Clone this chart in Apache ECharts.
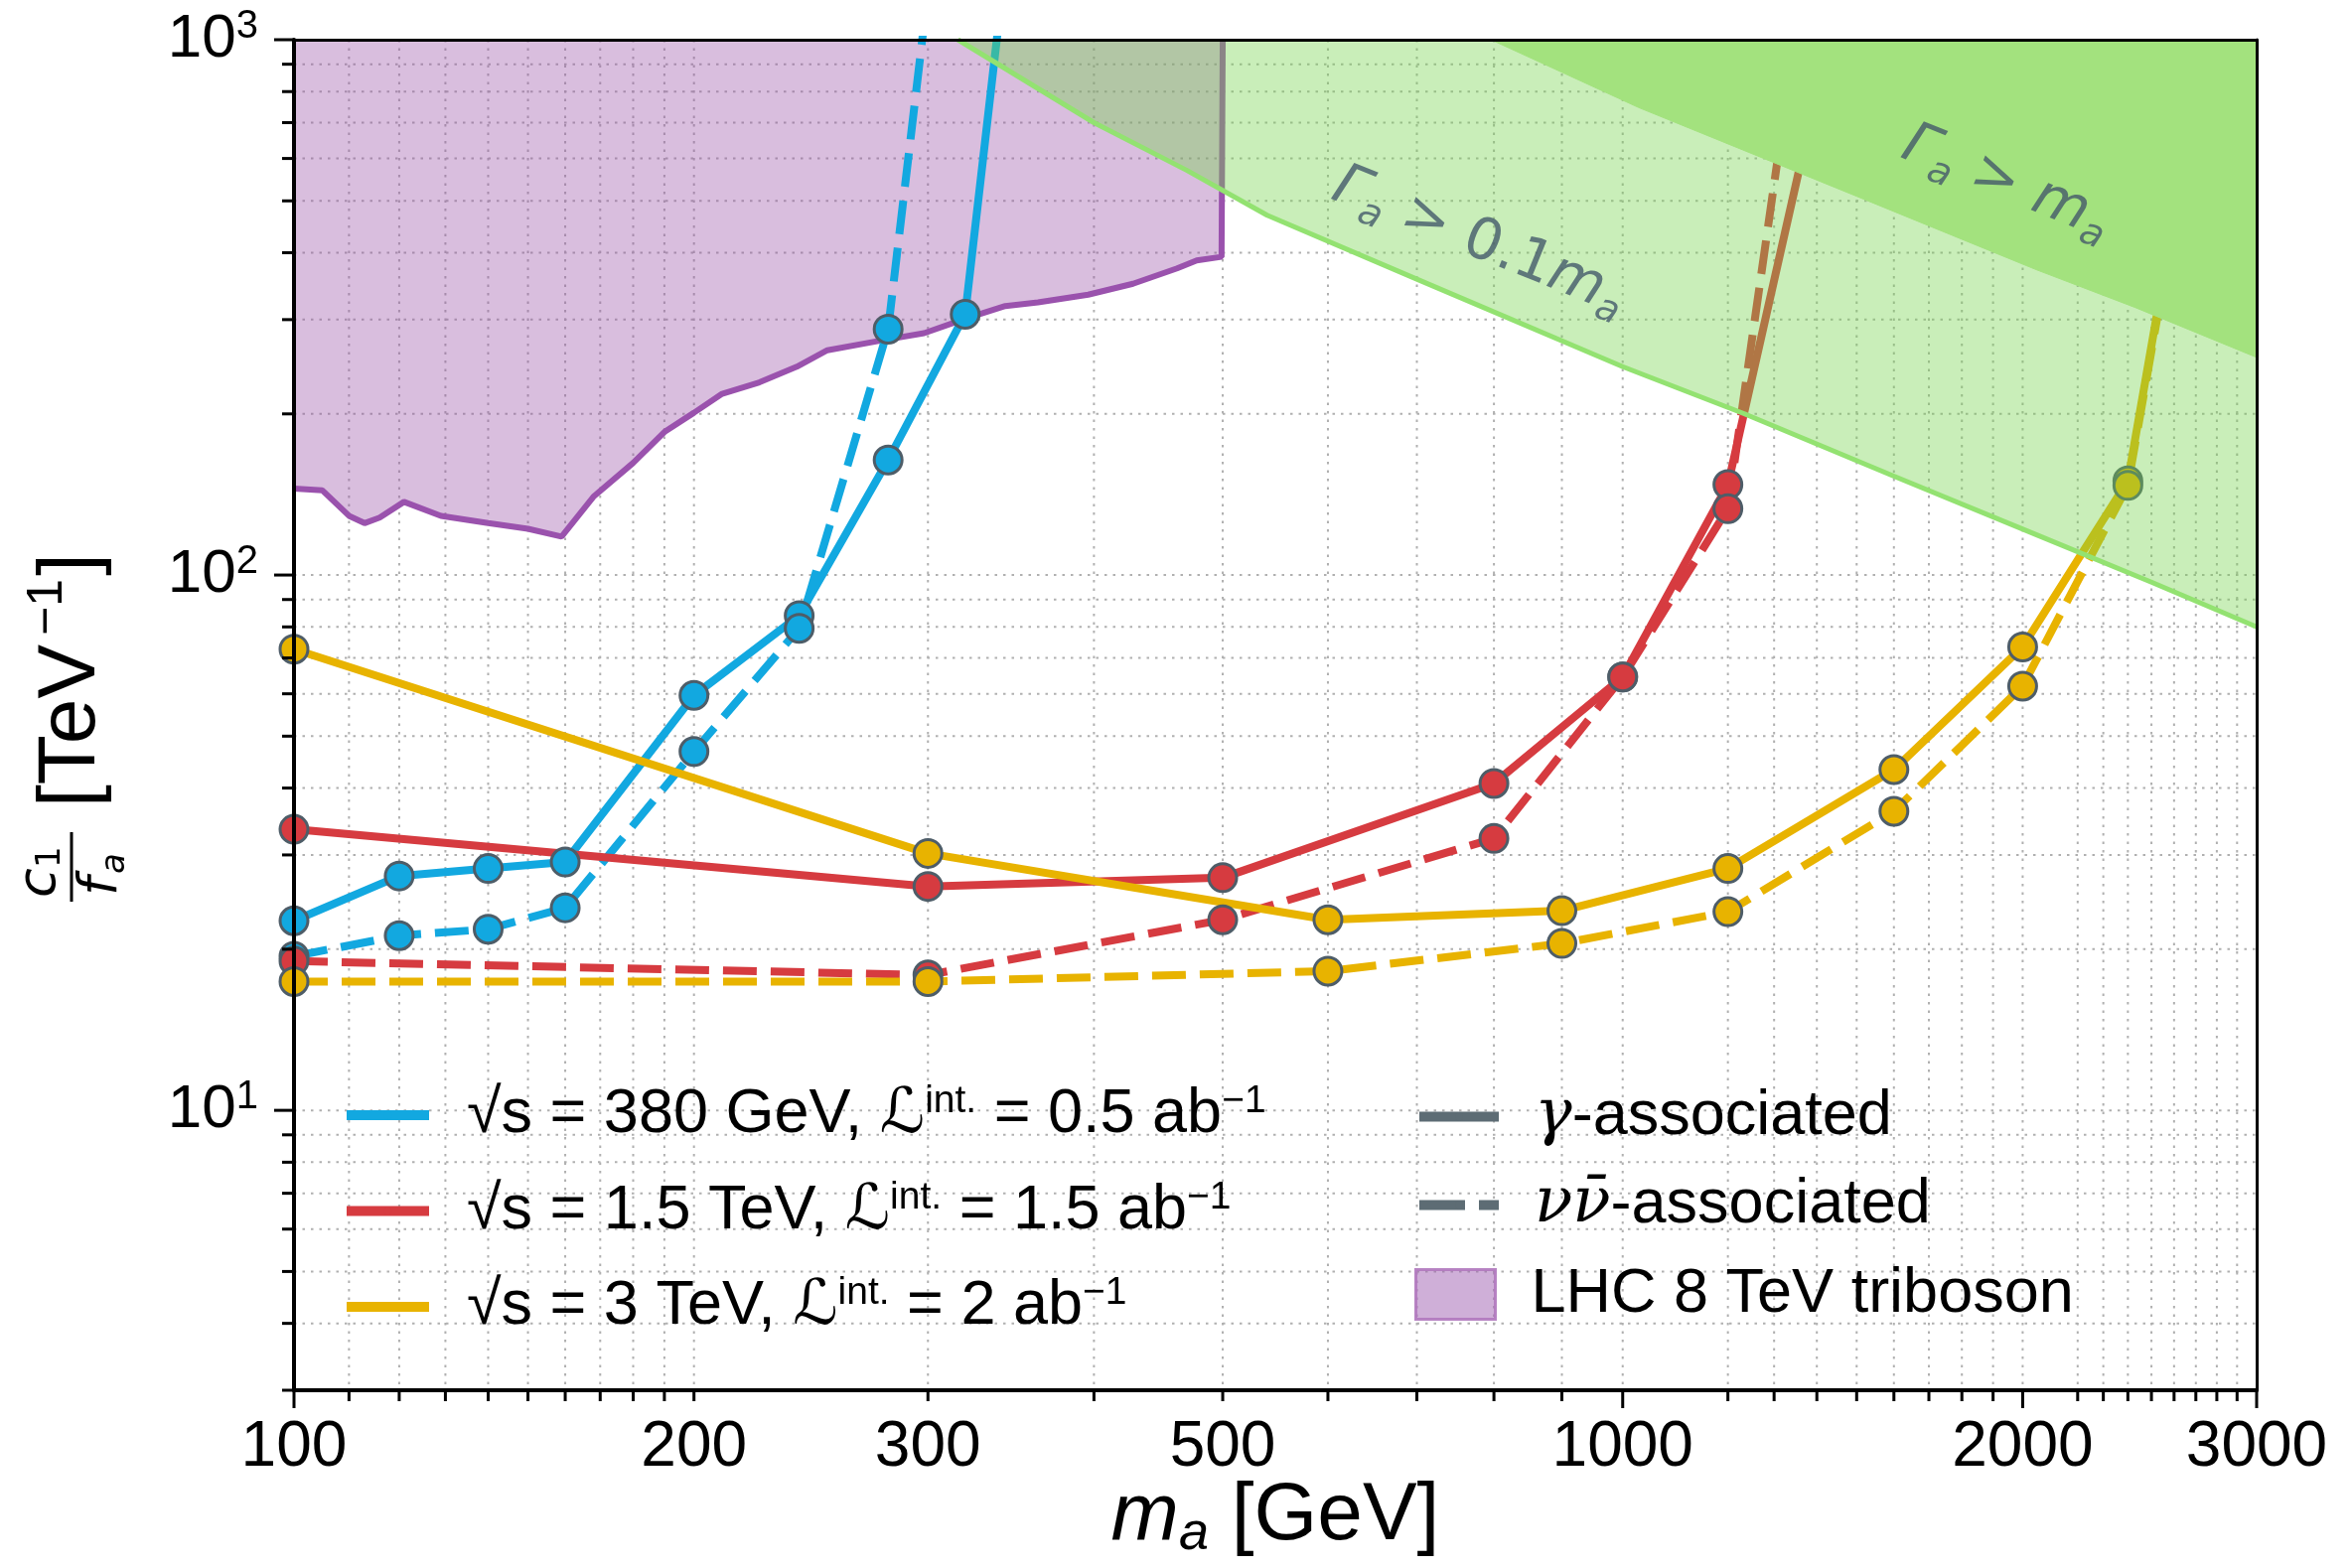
<!DOCTYPE html>
<html><head><meta charset="utf-8">
<script src="https://cdn.jsdelivr.net/npm/echarts@6/dist/echarts.min.js"></script>
<style>html,body{margin:0;padding:0;background:#fff}#c{width:2367px;height:1579px}</style>
</head><body><div id="c"></div>
<script>
// ---------------- data ----------------
const blueGammaX = [100, 120, 140, 160, 200, 240, 280, 320, 360];
const blueGammaY = [22.6, 27.4, 28.3, 29.1, 59.6, 84, 164, 307, 3900];
const blueNuNuX  = [100, 120, 140, 160, 200, 240, 280, 320];
const blueNuNuY  = [19.4, 21.2, 21.8, 23.9, 46.8, 79.5, 288, 4800];

const redGammaX = [100, 300, 500, 800, 1000, 1200, 1400];
const redGammaY = [33.5, 26.2, 27.2, 40.8, 64.5, 147.5, 800];
const redNuNuX  = [100, 300, 500, 800, 1000, 1200, 1330];
const redNuNuY  = [19.0, 17.9, 22.7, 32.2, 64.5, 133, 800];

const yellowX      = [100, 300, 600, 900, 1200, 1600, 2000, 2400, 2700];
const yellowGammaY = [72.7, 30.2, 22.7, 23.6, 28.3, 43.3, 73.4, 150, 800];
const yellowNuNuY  = [17.4, 17.4, 18.2, 20.5, 23.5, 36.2, 62, 147, 780];

const lhcX = [100, 105, 110, 113, 116, 121, 129, 140, 150, 159, 168, 180, 190, 200, 210, 224, 239, 252, 276, 298, 321, 343, 363, 396, 428, 462, 478, 499, 500];
const lhcY = [145, 144, 129, 125, 128, 137, 129, 125, 122, 118, 140, 162, 185, 201, 218, 229, 245, 263, 274, 283, 302, 318, 323, 334, 350, 374, 387, 393, 1000];

const width01X = [316, 400, 470, 540, 700, 1000, 1235, 1600, 2047, 2500, 3000];
const width01Y = [1000, 700, 570, 470, 357, 245, 200, 153, 119, 97, 80];
const width1X  = [796, 1028, 1500, 2047, 2431, 3000];
const width1Y  = [1000, 747, 510, 372, 316, 255];

const xTickLabels = [100, 200, 300, 500, 1000, 2000, 3000];
const xLongTicks  = [100, 1000, 2000, 3000];
const xGridValues = [110, 120, 130, 140, 150, 160, 170, 180, 190, 200, 300, 400, 500, 600, 700, 800, 900, 1000,
                     1200, 1300, 1400, 1500, 1600, 1700, 1800, 1900, 2000, 2200, 2300, 2400, 2500, 2600, 2700, 2800, 2900];
const xTickMarks  = [100, 110, 120, 130, 140, 150, 160, 170, 180, 190, 200, 300, 400, 500, 600, 700, 800, 900, 1000,
                     1200, 1300, 1400, 1500, 1600, 1700, 1800, 1900, 2000, 2200, 2300, 2400, 2500, 2600, 2700, 2800, 2900, 3000];
const yGridValues = [4, 5, 6, 7, 8, 9, 10, 20, 30, 40, 50, 60, 70, 80, 90, 100, 200, 300, 400, 500, 600, 700, 800, 900];
const yTickMarks  = [3, 4, 5, 6, 7, 8, 9, 10, 20, 30, 40, 50, 60, 70, 80, 90, 100, 200, 300, 400, 500, 600, 700, 800, 900, 1000];
const yLongTicks  = [10, 100, 1000];

// ---------------- styles ----------------
const SANS = '"Liberation Sans", Arial, Helvetica, "DejaVu Sans", sans-serif';
const MATH = '"DejaVu Sans", sans-serif';
const SERIF = '"DejaVu Serif", serif';
const BLUE = '#12a8e0', RED = '#d63b40', YELLOW = '#e8b300';
const EDGE = '#4e5d68', GRAY = '#5d6c74', GRID = '#b0b0b0';
const ANNO = '#44596a';

function pairs(xs, ys) { return xs.map((x, i) => [x, ys[i]]); }

function dataLine(name, xs, ys, color, dashed) {
  return {
    type: 'line', name, data: pairs(xs, ys), z: 3, silent: true, clip: true,
    symbol: 'circle', symbolSize: 28, showSymbol: true,
    lineStyle: { color, width: 8, type: dashed ? [34, 14] : 'solid' },
    itemStyle: { color, borderColor: EDGE, borderWidth: 3 },
    emphasis: { disabled: true }
  };
}

function gridSeries(values, axis) {
  return {
    type: 'custom', z: 1, silent: true, clip: false,
    data: values.map(v => axis === 'x' ? [v, 10] : [1000, v]),
    encode: { x: 0, y: 1 },
    renderItem: (p, api) => {
      const cs = p.coordSys;
      const pt = api.coord([api.value(0), api.value(1)]);
      const shape = axis === 'x'
        ? { x1: pt[0], y1: cs.y, x2: pt[0], y2: cs.y + cs.height }
        : { x1: cs.x, y1: pt[1], x2: cs.x + cs.width, y2: pt[1] };
      return { type: 'line', shape, style: { stroke: GRID, lineWidth: 2, lineDash: [2.5, 6] } };
    }
  };
}

function xTickSeries() {
  return {
    type: 'custom', z: 10, silent: true, clip: false,
    data: xTickMarks.map(v => [v, 10]),
    encode: { x: 0, y: 1 },
    renderItem: (p, api) => {
      const cs = p.coordSys;
      const v = api.value(0);
      const x = api.coord([v, 10])[0];
      const b = cs.y + cs.height;
      const len = xLongTicks.includes(v) ? 18 : 11;
      const children = [{ type: 'line', shape: { x1: x, y1: b, x2: x, y2: b + len }, style: { stroke: '#000', lineWidth: 3 } }];
      if (xTickLabels.includes(v)) {
        children.push({ type: 'text', x, y: b + 58, style: { text: String(v), fontSize: 64, fontFamily: SANS, fill: '#000', align: 'center', verticalAlign: 'middle' } });
      }
      return { type: 'group', children };
    }
  };
}

function yTickSeries() {
  return {
    type: 'custom', z: 10, silent: true, clip: false,
    data: yTickMarks.map(v => [1000, v]),
    encode: { x: 0, y: 1 },
    renderItem: (p, api) => {
      const cs = p.coordSys;
      const v = api.value(1);
      const y = api.coord([1000, v])[1];
      const len = yLongTicks.includes(v) ? 20 : 12;
      return { type: 'line', shape: { x1: cs.x - len, y1: y, x2: cs.x, y2: y }, style: { stroke: '#000', lineWidth: 3 } };
    }
  };
}

const legendText = {
  'E380':  '{m|√s = 380 GeV, ℒ}{sup|int.}{m| = 0.5 ab}{sup|−1}',
  'E1500': '{m|√s = 1.5 TeV, ℒ}{sup|int.}{m| = 1.5 ab}{sup|−1}',
  'E3000': '{m|√s = 3 TeV, ℒ}{sup|int.}{m| = 2 ab}{sup|−1}',
  'gamma': '{g|γ}{m|-associated}',
  'nunu':  '{g|νν̄}{m|-associated}',
  'LHC':   '{m|LHC 8 TeV triboson}'
};
const legendRich = {
  m: { fontSize: 63, fontFamily: SANS, color: '#000', lineHeight: 66 },
  sup: { fontSize: 39, fontFamily: SANS, color: '#000', lineHeight: 38, verticalAlign: 'top' },
  g: { fontSize: 63, fontFamily: SERIF, fontStyle: 'italic', color: '#000', lineHeight: 66 }
};

const annoRich = {
  g: { fontSize: 58, fontFamily: MATH, fontStyle: 'italic', color: ANNO, lineHeight: 70 },
  s: { fontSize: 38, fontFamily: MATH, fontStyle: 'italic', color: ANNO, lineHeight: 40, verticalAlign: 'bottom' },
  t: { fontSize: 58, fontFamily: MATH, color: ANNO, lineHeight: 70 }
};

function dummy(name, color, dash) {
  return { type: 'line', name, data: [], symbol: 'none', lineStyle: { color, width: 10, type: dash || 'solid' }, itemStyle: { color } };
}

function legendBlock(names, left, top, itemWidth, itemHeight, gap, textPad) {
  return {
    data: names, orient: 'vertical', left, top, padding: 0,
    itemWidth, itemHeight, itemGap: gap, selectedMode: false,
    formatter: n => legendText[n],
    textStyle: { padding: [0, 0, 0, textPad], rich: legendRich, fontSize: 63, fontFamily: SANS, color: '#000' },
    lineStyle: { width: 10 }
  };
}

const option = {
  animation: false,
  backgroundColor: '#fff',
  grid: { left: 296, right: 95, top: 40, bottom: 179, show: false },
  xAxis: [{
    type: 'log', logBase: 10, min: 100, max: 3000, position: 'bottom', z: 9,
    axisLine: { show: true, lineStyle: { color: '#000', width: 4 } },
    axisTick: { show: false }, axisLabel: { show: false }, splitLine: { show: false },
    name: '{i|m}{s|a}{n| [GeV]}', nameLocation: 'middle', nameGap: 82,
    nameTextStyle: {
      rich: {
        i: { fontSize: 82, fontFamily: SANS, fontStyle: 'italic', color: '#000', lineHeight: 90 },
        s: { fontSize: 54, fontFamily: SANS, fontStyle: 'italic', color: '#000', lineHeight: 56, verticalAlign: 'bottom' },
        n: { fontSize: 82, fontFamily: SANS, color: '#000', lineHeight: 90 }
      }
    }
  }, {
    type: 'log', logBase: 10, min: 100, max: 3000, position: 'top', z: 9,
    axisLine: { show: true, lineStyle: { color: '#000', width: 3 } },
    axisTick: { show: false }, axisLabel: { show: false }, splitLine: { show: false }
  }],
  yAxis: [{
    type: 'log', logBase: 10, min: 3, max: 1000, position: 'left', z: 9,
    axisLine: { show: true, lineStyle: { color: '#000', width: 4 } },
    axisTick: { show: false }, splitLine: { show: false },
    axisLabel: {
      margin: 36,
      formatter: v => {
        const e = Math.round(Math.log10(v));
        if (Math.abs(v - Math.pow(10, e)) > 1e-6 * v) return '';
        return '{b|10}{e|' + e + '}';
      },
      rich: {
        b: { fontSize: 62, fontFamily: SANS, color: '#000', lineHeight: 66 },
        e: { fontSize: 40, fontFamily: SANS, color: '#000', lineHeight: 40, verticalAlign: 'top' }
      }
    }
  }, {
    type: 'log', logBase: 10, min: 3, max: 1000, position: 'right', z: 9,
    axisLine: { show: true, lineStyle: { color: '#000', width: 3 } },
    axisTick: { show: false }, axisLabel: { show: false }, splitLine: { show: false }
  }],
  legend: [
    legendBlock(['E380', 'E1500', 'E3000'], 344, 1090, 83, 10, 32, 33),
    legendBlock(['gamma', 'nunu'], 1424, 1093, 80, 10, 26, 31),
    legendBlock([{ name: 'LHC', icon: 'rect', itemStyle: { color: 'rgba(160,95,178,0.5)', borderColor: 'rgba(176,120,190,0.9)', borderWidth: 3 } }], 1424, 1272, 80, 50, 10, 31)
  ],
  graphic: [{
    type: 'group', x: 72, y: 722, rotation: Math.PI / 2, silent: true,
    children: [
      { type: 'text', x: -91, y: 0, style: { text: '[TeV', fontSize: 82, fontFamily: SANS, fill: '#000', align: 'left', verticalAlign: 'middle' } },
      { type: 'text', x: 82, y: -24, style: { text: '−1', fontSize: 50, fontFamily: SANS, fill: '#000', align: 'left', verticalAlign: 'middle' } },
      { type: 'text', x: 142, y: 0, style: { text: ']', fontSize: 82, fontFamily: SANS, fill: '#000', align: 'left', verticalAlign: 'middle' } },
      { type: 'text', x: -182, y: -31, style: { text: 'c', fontSize: 54, fontFamily: MATH, fontStyle: 'italic', fill: '#000', align: 'left', verticalAlign: 'middle' } },
      { type: 'text', x: -152, y: -21, style: { text: '1', fontSize: 34, fontFamily: MATH, fill: '#000', align: 'left', verticalAlign: 'middle' } },
      { type: 'line', shape: { x1: -186, y1: 0, x2: -116, y2: 0 }, style: { stroke: '#000', lineWidth: 3 } },
      { type: 'text', x: -180, y: 31, style: { text: 'f', fontSize: 54, fontFamily: MATH, fontStyle: 'italic', fill: '#000', align: 'left', verticalAlign: 'middle' } },
      { type: 'text', x: -158, y: 44, style: { text: 'a', fontSize: 34, fontFamily: MATH, fontStyle: 'italic', fill: '#000', align: 'left', verticalAlign: 'middle' } }
    ]
  }],
  series: [
    gridSeries(xGridValues, 'x'),
    gridSeries(yGridValues, 'y'),
    {
      type: 'line', name: 'LHC', data: pairs(lhcX, lhcY), z: 2, silent: true, symbol: 'none',
      lineStyle: { color: '#9a52ad', width: 6 },
      areaStyle: { color: 'rgba(150,78,165,0.52)', origin: 'end' },
      itemStyle: { color: '#9a52ad' }
    },
    dataLine('blueGamma', blueGammaX, blueGammaY, BLUE, false),
    dataLine('blueNuNu', blueNuNuX, blueNuNuY, BLUE, true),
    dataLine('redGamma', redGammaX, redGammaY, RED, false),
    dataLine('redNuNu', redNuNuX, redNuNuY, RED, true),
    dataLine('yellowGamma', yellowX, yellowGammaY, YELLOW, false),
    dataLine('yellowNuNu', yellowX, yellowNuNuY, YELLOW, true),
    {
      type: 'line', name: 'width01', data: pairs(width01X, width01Y), z: 4, silent: true, symbol: 'none',
      lineStyle: { color: '#93e271', width: 5 },
      areaStyle: { color: 'rgba(118,212,76,0.56)', origin: 'end' }
    },
    {
      type: 'line', name: 'width1', data: pairs(width1X, width1Y), z: 5, silent: true, symbol: 'none',
      lineStyle: { color: '#a3e27e', width: 1 },
      areaStyle: { color: '#a3e27e', opacity: 1, origin: 'end' }
    },
    {
      type: 'scatter', name: 'annoWide', z: 6, silent: true, symbolSize: 0.1, itemStyle: { color: 'rgba(0,0,0,0)' },
      data: [[780, 418]],
      label: { show: true, position: 'inside', rotate: -22, formatter: '{g|Γ}{s|a}{t| > 0.1}{g|m}{s|a}', rich: annoRich }
    },
    {
      type: 'scatter', name: 'annoFull', z: 6, silent: true, symbolSize: 0.1, itemStyle: { color: 'rgba(0,0,0,0)' },
      data: [[1944, 538]],
      label: { show: true, position: 'inside', rotate: -22, formatter: '{g|Γ}{s|a}{t| > }{g|m}{s|a}', rich: annoRich }
    },
    xTickSeries(),
    yTickSeries(),
    dummy('E380', BLUE), dummy('E1500', RED), dummy('E3000', YELLOW),
    dummy('gamma', GRAY), dummy('nunu', GRAY, [46, 14])
  ]
};

const chart = echarts.init(document.getElementById('c'), null, { renderer: 'canvas' });
chart.setOption(option);
</script>
</body></html>
